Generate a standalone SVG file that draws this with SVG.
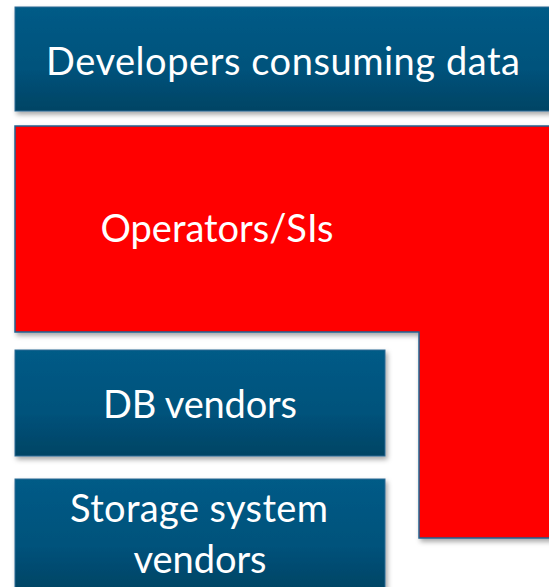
<svg xmlns="http://www.w3.org/2000/svg" width="549" height="587" viewBox="0 0 549 587">
<style>
.box{fill:url(#blue);stroke:#2b6a93;stroke-width:1;filter:url(#sh)}
.red{fill:#ff0000;stroke:#1f6391;stroke-width:1.5;filter:url(#sh)}
.t{font-family:Lato,"Liberation Sans",sans-serif;font-size:38px;fill:#ffffff;text-anchor:middle}
</style>
<defs>
<linearGradient id="blue" x1="0" y1="0" x2="0" y2="1">
<stop offset="0" stop-color="#005b87"/>
<stop offset="0.6" stop-color="#00527b"/>
<stop offset="1" stop-color="#004464"/>
</linearGradient>
<filter id="sh" x="-5%" y="-5%" width="115%" height="120%">
<feDropShadow dx="2" dy="3" stdDeviation="2.5" flood-color="#000" flood-opacity="0.35"/>
</filter>
</defs>
<g id="developers">
<rect class="box" x="15" y="7" width="540" height="104"/>
<text class="t" x="283" y="75" textLength="474">Developers consuming data</text>
</g>
<g id="operators">
<path class="red" d="M15,126 H555 V538 H419 V332 H15 Z"/>
<text class="t" x="217" y="242" textLength="233">Operators/SIs</text>
</g>
<g id="db">
<rect class="box" x="15" y="350" width="370" height="106"/>
<text class="t" x="200" y="418" textLength="194">DB vendors</text>
</g>
<g id="storage">
<rect class="box" x="15" y="479" width="370" height="112"/>
<text class="t" x="199" y="522" textLength="258">Storage system</text>
<text class="t" x="200" y="573" textLength="133">vendors</text>
</g>
<g id="connectors"/>
</svg>
